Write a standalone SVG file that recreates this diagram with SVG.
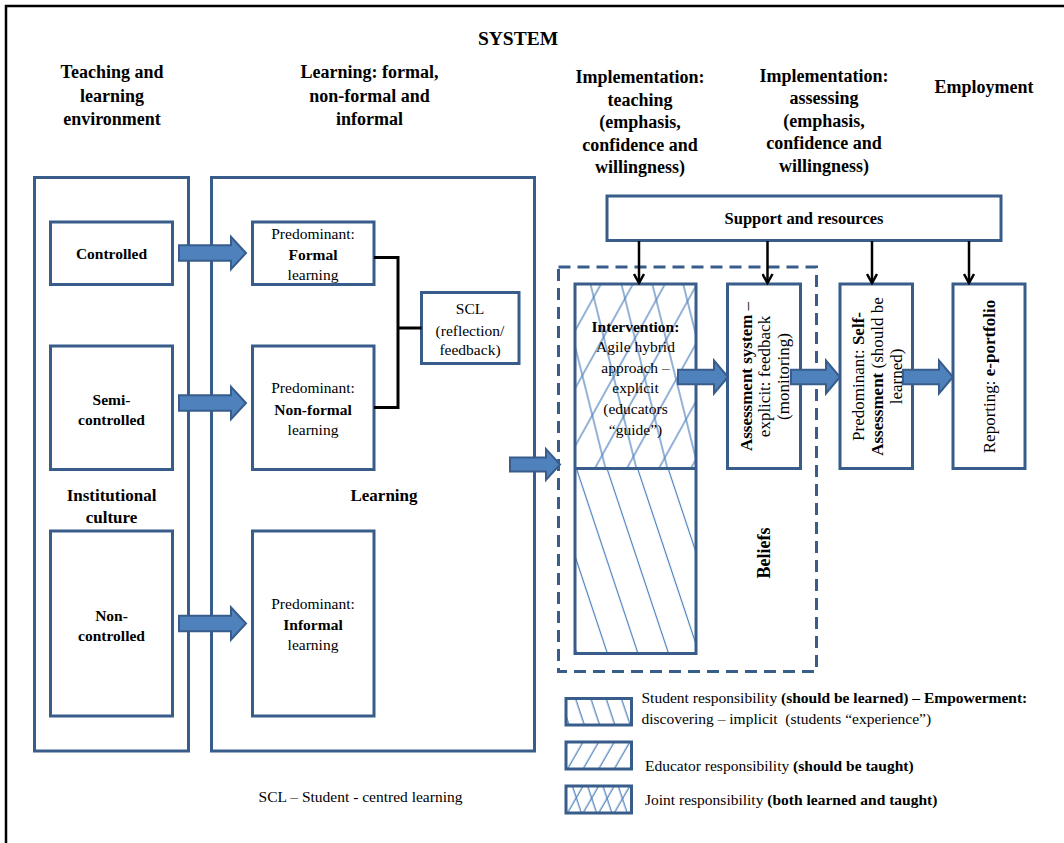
<svg xmlns="http://www.w3.org/2000/svg" width="1064" height="843" viewBox="0 0 1064 843" font-family="'Liberation Serif', 'DejaVu Serif', serif">
<defs>
<style>
text, tspan{font-family:'Liberation Serif','DejaVu Serif',serif;fill:#000}
.h{font-size:18px;font-weight:bold;text-anchor:middle}
.sys{font-size:19.5px;font-weight:bold;text-anchor:middle}
.box{fill:#fff;stroke:#385D8A;stroke-width:3}
.b15{font-size:15.5px;font-weight:bold;text-anchor:middle}
.b17{font-size:17px;font-weight:bold;text-anchor:middle}
.r15{font-size:15.5px;text-anchor:middle}
.v{font-size:17px;text-anchor:middle}
.bd{font-weight:bold}
.blk{fill:#4F81BD;stroke:#385D8A;stroke-width:2}
.con{fill:none;stroke:#000;stroke-width:3}
.down{fill:none;stroke:#000;stroke-width:2.5;marker-end:url(#ah)}
.leg{font-size:15.5px}
.hl{stroke:#4A7EBB;stroke-width:1.2}
</style>
<marker id="ah" markerWidth="12" markerHeight="12" refX="10" refY="6" orient="auto" markerUnits="userSpaceOnUse"><path d="M1,1 L10,6 L1,11" fill="none" stroke="#000" stroke-width="2.5"/></marker>
<pattern id="pS" patternUnits="userSpaceOnUse" width="29" height="40" patternTransform="translate(561,468) rotate(-18.4)"><line class="hl" x1="14.5" y1="0" x2="14.5" y2="40"/></pattern>
<pattern id="pJ1" patternUnits="userSpaceOnUse" width="30" height="40" patternTransform="translate(575,284) rotate(-14)"><line class="hl" x1="15" y1="0" x2="15" y2="40"/></pattern>
<pattern id="pJ2" patternUnits="userSpaceOnUse" width="28" height="40" patternTransform="translate(585,284) rotate(29)"><line class="hl" x1="14" y1="0" x2="14" y2="40"/></pattern>
<pattern id="lS" patternUnits="userSpaceOnUse" width="14.5" height="30" patternTransform="translate(568,698) rotate(-18.4)"><line class="hl" x1="7" y1="0" x2="7" y2="30"/></pattern>
<pattern id="lE" patternUnits="userSpaceOnUse" width="13.5" height="30" patternTransform="translate(575,742) rotate(30)"><line class="hl" x1="7" y1="0" x2="7" y2="30"/></pattern>
<pattern id="lJ1" patternUnits="userSpaceOnUse" width="14.5" height="30" patternTransform="translate(565,786) rotate(-18.4)"><line class="hl" x1="7" y1="0" x2="7" y2="30"/></pattern>
<pattern id="lJ2" patternUnits="userSpaceOnUse" width="13.5" height="30" patternTransform="translate(575,786) rotate(30)"><line class="hl" x1="7" y1="0" x2="7" y2="30"/></pattern>
</defs>

<path d="M6,843 V6 H1064" fill="none" stroke="#000" stroke-width="2.5"/>

<g id="headers">
<text class="sys" x="518" y="45">SYSTEM</text>
<text class="h" x="112" y="78">Teaching and</text>
<text class="h" x="112" y="101.5">learning</text>
<text class="h" x="112" y="125">environment</text>
<text class="h" x="369.5" y="78">Learning: formal,</text>
<text class="h" x="369.5" y="101.5">non-formal and</text>
<text class="h" x="369.5" y="125">informal</text>
<text class="h" x="640" y="83">Implementation:</text>
<text class="h" x="640" y="105.5">teaching</text>
<text class="h" x="640" y="128">(emphasis,</text>
<text class="h" x="640" y="150.5">confidence and</text>
<text class="h" x="640" y="173">willingness)</text>
<text class="h" x="824" y="81.5">Implementation:</text>
<text class="h" x="824" y="104">assessing</text>
<text class="h" x="824" y="126.5">(emphasis,</text>
<text class="h" x="824" y="149">confidence and</text>
<text class="h" x="824" y="171.5">willingness)</text>
<text class="h" x="984" y="93">Employment</text>
</g>

<g id="env">
<rect class="box" x="34.5" y="177.5" width="154" height="573.5"/>
<text class="b17" x="111.5" y="500.5">Institutional</text>
<text class="b17" x="111.5" y="522.5">culture</text>
</g>

<g id="learning">
<rect class="box" x="211.5" y="177.5" width="323" height="573.5"/>
<text class="b17" x="384" y="500.5">Learning</text>
</g>

<g id="controlled">
<rect class="box" x="50.5" y="222" width="122" height="62.5"/>
<text class="b15" x="111.5" y="259">Controlled</text>
</g>
<g id="semi">
<rect class="box" x="50.5" y="346" width="122" height="123.5"/>
<text class="b15" x="111.5" y="405">Semi-</text>
<text class="b15" x="111.5" y="425">controlled</text>
</g>
<g id="noncontrolled">
<rect class="box" x="50.5" y="531" width="122" height="185"/>
<text class="b15" x="111.5" y="620.5">Non-</text>
<text class="b15" x="111.5" y="640.5">controlled</text>
</g>

<g id="formal">
<rect class="box" x="252.5" y="222" width="121.5" height="62.5"/>
<text class="r15" x="313" y="238.5">Predominant:</text>
<text class="b15" x="313" y="259.5">Formal</text>
<text class="r15" x="313" y="279.5">learning</text>
</g>
<g id="nonformal">
<rect class="box" x="252.5" y="346" width="121.5" height="123.5"/>
<text class="r15" x="313" y="393">Predominant:</text>
<text class="b15" x="313" y="414.5">Non-formal</text>
<text class="r15" x="313" y="434.5">learning</text>
</g>
<g id="informal">
<rect class="box" x="252.5" y="531" width="121.5" height="185"/>
<text class="r15" x="313" y="609">Predominant:</text>
<text class="b15" x="313" y="630">Informal</text>
<text class="r15" x="313" y="650">learning</text>
</g>

<g id="scl">
<rect class="box" x="421.5" y="292.5" width="97.5" height="71"/>
<text class="r15" x="470" y="314">SCL</text>
<text class="r15" x="470" y="335.5">(reflection/</text>
<text class="r15" x="470" y="355">feedback)</text>
</g>

<g id="support">
<rect class="box" x="607" y="196" width="394" height="44.5"/>
<text class="b15" x="804" y="224" style="font-size:16.5px">Support and resources</text>
</g>

<g id="beliefs">
<rect x="558.5" y="267" width="258" height="404.5" fill="none" stroke="#385D8A" stroke-width="3" stroke-dasharray="12 7"/>
<text class="b17" transform="translate(770,553) rotate(-90)" style="font-size:18px">Beliefs</text>
</g>

<g id="intervention">
<rect x="575" y="284" width="121" height="369.5" fill="#fff"/>
<rect x="575" y="284" width="121" height="184.5" fill="url(#pJ1)"/>
<rect x="575" y="284" width="121" height="184.5" fill="url(#pJ2)"/>
<rect x="575" y="468.5" width="121" height="185" fill="url(#pS)"/>
<rect x="575" y="284" width="121" height="369.5" fill="none" stroke="#385D8A" stroke-width="3"/>
<line x1="575" y1="468.5" x2="696" y2="468.5" stroke="#385D8A" stroke-width="3"/>
<text class="b15" x="635.5" y="331.5">Intervention:</text>
<text class="r15" x="635.5" y="352">Agile hybrid</text>
<text class="r15" x="635.5" y="372.5">approach –</text>
<text class="r15" x="635.5" y="393">explicit</text>
<text class="r15" x="635.5" y="414">(educators</text>
<text class="r15" x="635.5" y="434.5">“guide”)</text>
</g>

<g id="assessment">
<rect class="box" x="727.5" y="284" width="73" height="184.5"/>
<text class="v" transform="translate(751.5,376.5) rotate(-90)"><tspan class="bd">Assessment system</tspan> –</text>
<text class="v" transform="translate(770,376.5) rotate(-90)">explicit: feedback</text>
<text class="v" transform="translate(789,376.5) rotate(-90)">(monitoring)</text>
</g>

<g id="selfassessment">
<rect class="box" x="840" y="284" width="72.5" height="184.5"/>
<text class="v" transform="translate(863.5,376.5) rotate(-90)">Predominant: <tspan class="bd">Self-</tspan></text>
<text class="v" transform="translate(882.5,376.5) rotate(-90)"><tspan class="bd">Assessment</tspan> (should be</text>
<text class="v" transform="translate(901.5,376.5) rotate(-90)">learned)</text>
</g>

<g id="reporting">
<rect class="box" x="953" y="284" width="72" height="184.5"/>
<text class="v" transform="translate(995,376.5) rotate(-90)">Reporting: <tspan class="bd">e-portfolio</tspan></text>
</g>

<g id="connectors">
<path class="blk" d="M179,245.2 H231 V236.7 L246,253 L231,269.3 V260.8 H179 Z"/>
<path class="blk" d="M179,395.2 H231 V386.7 L246,403 L231,419.3 V410.8 H179 Z"/>
<path class="blk" d="M179,615.7 H231 V607.2 L246,623.5 L231,639.8 V631.3 H179 Z"/>
<path class="con" d="M374,257.5 H398 V407.5 H374 M398,328 H421.5"/>
<path class="blk" d="M510,457.5 H546 V449 L560,464.5 L546,480 V471.5 H510 Z"/>
<path class="blk" d="M678,369.7 H714 V360.5 L728,377 L714,393.5 V384.3 H678 Z"/>
<path class="blk" d="M791,369.7 H826 V360.5 L840,377 L826,393.5 V384.3 H791 Z"/>
<path class="blk" d="M903,369.7 H939 V360.5 L953,377 L939,393.5 V384.3 H903 Z"/>
<line class="down" x1="639" y1="241" x2="639" y2="283"/>
<line class="down" x1="767.5" y1="241" x2="767.5" y2="283"/>
<line class="down" x1="872" y1="241" x2="872" y2="283"/>
<line class="down" x1="969" y1="241" x2="969" y2="283"/>
</g>

<g id="legend">
<rect x="566" y="698.5" width="65.5" height="26.5" fill="#fff"/>
<rect x="566" y="698.5" width="65.5" height="26.5" fill="url(#lS)" stroke="#385D8A" stroke-width="3"/>
<rect x="566" y="742" width="65.5" height="27" fill="#fff"/>
<rect x="566" y="742" width="65.5" height="27" fill="url(#lE)" stroke="#385D8A" stroke-width="3"/>
<rect x="566" y="786" width="65.5" height="27" fill="#fff"/>
<rect x="566" y="786" width="65.5" height="27" fill="url(#lJ1)"/>
<rect x="566" y="786" width="65.5" height="27" fill="url(#lJ2)" stroke="#385D8A" stroke-width="3"/>
<text class="leg" x="641.5" y="703">Student responsibility <tspan class="bd">(should be learned) – Empowerment:</tspan></text>
<text class="leg" x="641.5" y="723.5" style="white-space:pre">discovering – implicit  (students “experience”)</text>
<text class="leg" x="645" y="771">Educator responsibility <tspan class="bd">(should be taught)</tspan></text>
<text class="leg" x="645" y="805">Joint responsibility <tspan class="bd">(both learned and taught)</tspan></text>
</g>

<text class="r15" x="360.5" y="802">SCL – Student - centred learning</text>
</svg>
